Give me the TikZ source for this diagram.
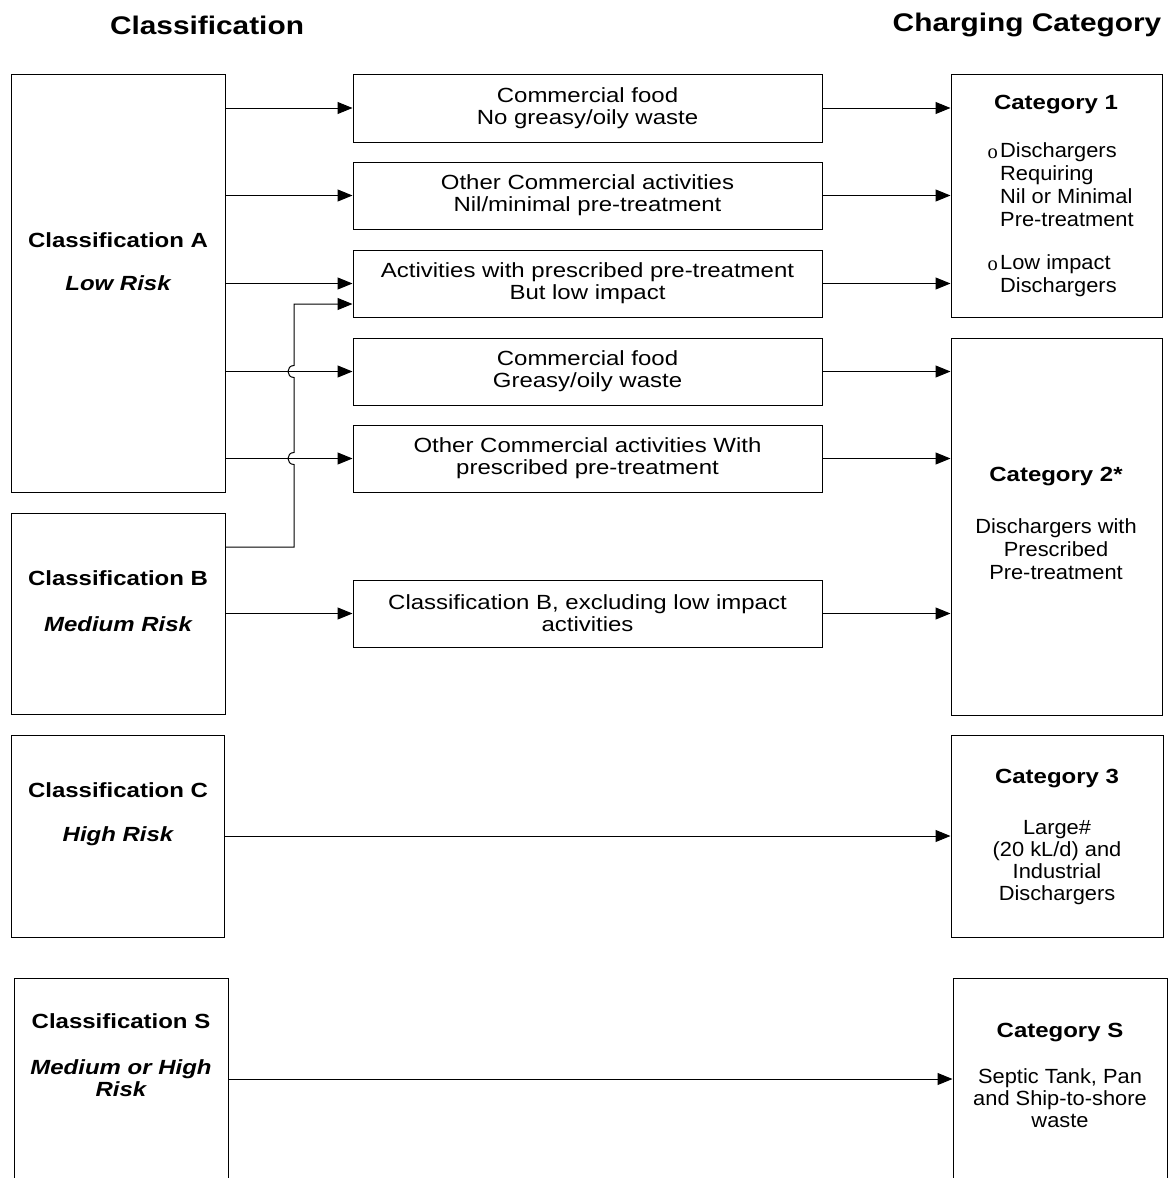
\documentclass[tikz,border=0pt]{standalone}
\usepackage{fontspec}
\setmainfont{Liberation Sans}[FakeStretch=1.17]
\newfontfamily\catfont{Liberation Sans}[FakeStretch=1.065]
\newfontfamily\bulfont{Liberation Serif}
\usetikzlibrary{arrows.meta,calc}
\begin{document}
\begin{tikzpicture}[x=1pt,y=-1pt,
  box/.style={draw, line width=1pt, inner sep=0pt, align=center},
  txt/.style={inner sep=0pt, align=center, font=\fontsize{20.5}{23}\selectfont},
  mtxt/.style={inner sep=0pt, align=center, font=\fontsize{20.5}{22}\selectfont},
  ctxt/.style={inner sep=0pt, align=center, font=\catfont\fontsize{20.5}{23}\selectfont},
  ltxt/.style={inner sep=0pt, align=left, anchor=west, font=\catfont\fontsize{20.5}{23}\selectfont},
  bul/.style={inner sep=0pt, anchor=base, font=\bulfont\fontsize{20.5}{23}\selectfont},
  head/.style={inner sep=0pt, font=\fontsize{25.5}{28}\selectfont\bfseries},
  arr/.style={line width=1pt, -{Triangle[length=15pt,width=12pt]}}]
\useasboundingbox (0,0) rectangle (1171,1178);
\clip (0,0) rectangle (1171,1178);

% headers
\node[head] (h1) at (207,25) {Classification};
\node[head] (h2) at (1027,25) {Charging Category};

% left boxes
\node[box, minimum width=214pt, minimum height=418pt] (clsA) at (118,283) {};
\node[box, minimum width=214pt, minimum height=201pt] (clsB) at (118,613.5) {};
\node[box, minimum width=213pt, minimum height=202pt] (clsC) at (117.5,836) {};
\node[box, minimum width=214pt, minimum height=222pt] (clsS) at (121,1089) {};
\node[txt] (tA1) at (118,240) {\bfseries Classification A};
\node[txt] (tA2) at (118,283) {\bfseries\itshape Low Risk};
\node[txt] (tB1) at (118,578) {\bfseries Classification B};
\node[txt] (tB2) at (118,624) {\bfseries\itshape Medium Risk};
\node[txt] (tC1) at (118,790) {\bfseries Classification C};
\node[txt] (tC2) at (118,836) {\bfseries\itshape High Risk};
\node[txt] (tS1) at (121,1021) {\bfseries Classification S};
\node[mtxt] (tS2) at (121,1078) {\bfseries\itshape Medium or High\\\bfseries\itshape Risk};

% middle boxes
\node[box, mtxt, minimum width=469pt, minimum height=68pt] (m1) at (587.5,108) {Commercial food\\No greasy/oily waste};
\node[box, mtxt, minimum width=469pt, minimum height=67pt] (m2) at (587.5,195.5) {Other Commercial activities\\Nil/minimal pre-treatment};
\node[box, mtxt, minimum width=469pt, minimum height=67pt] (m3) at (587.5,283.5) {Activities with prescribed pre-treatment\\But low impact};
\node[box, mtxt, minimum width=469pt, minimum height=67pt] (m4) at (587.5,371.5) {Commercial food\\Greasy/oily waste};
\node[box, mtxt, minimum width=469pt, minimum height=67pt] (m5) at (587.5,458.5) {Other Commercial activities With\\prescribed pre-treatment};
\node[box, mtxt, minimum width=469pt, minimum height=67pt] (m6) at (587.5,613.5) {Classification B, excluding low impact\\activities};

% right boxes
\node[box, minimum width=211pt, minimum height=243pt] (c1) at (1056.5,195.5) {};
\node[box, minimum width=211pt, minimum height=377pt] (c2) at (1056.5,526.5) {};
\node[box, minimum width=212pt, minimum height=202pt] (c3) at (1057,836) {};
\node[box, minimum width=214pt, minimum height=222pt] (cS) at (1060,1089) {};

\node[txt] (t11) at (1056,105) {\bfseries Category 1};
\node[bul] (b1) at (992.8,158) {o};
\node[ltxt] (t12) at (1000,185) {Dischargers\\Requiring\\Nil or Minimal\\Pre-treatment};
\node[bul] (b2) at (992.8,270.5) {o};
\node[ltxt] (t13) at (1000,275.3) {Low impact\\Dischargers};

\node[txt] (t21) at (1056,477) {\bfseries Category 2*};
\node[ctxt] (t22) at (1056,549) {Dischargers with\\Prescribed\\Pre-treatment};

\node[txt] (t31) at (1057,779) {\bfseries Category 3};
\node[ctxt, font=\catfont\fontsize{20.5}{22}\selectfont] (t32) at (1057,863) {Large\#\\(20 kL/d) and\\Industrial\\Dischargers};

\node[txt] (tS31) at (1060,1033) {\bfseries Category S};
\node[ctxt, font=\catfont\fontsize{20.5}{22}\selectfont] (tS32) at (1060,1098) {Septic Tank, Pan\\and Ship-to-shore\\waste};

% connectors from classification A
\draw[arr] (clsA.east |- m1.west) -- (m1.west);
\draw[arr] (clsA.east |- m2.west) -- (m2.west);
\draw[arr] (clsA.east |- m3.west) -- (m3.west);
\draw[arr] (clsA.east |- m4.west) -- (m4.west);
\draw[arr] (clsA.east |- m5.west) -- (m5.west);

% from classification B with line hops
\coordinate (m3b) at ([yshift=-20.5pt]m3.west);
\coordinate (bout) at ([yshift=66.5pt]clsB.east);
\coordinate (jx) at (294,547);
\draw[arr] (bout) -- (jx |- bout)
  -- ($(jx|-m5.west)+(0,6)$) .. controls ($(jx|-m5.west)+(-8,6)$) and ($(jx|-m5.west)+(-8,-6)$) .. ($(jx|-m5.west)+(0,-6)$)
  -- ($(jx|-m4.west)+(0,6)$) .. controls ($(jx|-m4.west)+(-8,6)$) and ($(jx|-m4.west)+(-8,-6)$) .. ($(jx|-m4.west)+(0,-6)$)
  -- (jx |- m3b) -- (m3b);
\draw[arr] (clsB.east |- m6.west) -- (m6.west);

% to categories
\draw[arr] (m1.east) -- (c1.west |- m1.east);
\draw[arr] (m2.east) -- (c1.west |- m2.east);
\draw[arr] (m3.east) -- (c1.west |- m3.east);
\draw[arr] (m4.east) -- (c2.west |- m4.east);
\draw[arr] (m5.east) -- (c2.west |- m5.east);
\draw[arr] (m6.east) -- (c2.west |- m6.east);
\draw[arr] (clsC.east) -- (c3.west);
\coordinate (sout) at ([yshift=10pt]clsS.east);
\draw[arr] (sout) -- (cS.west |- sout);
\end{tikzpicture}
\end{document}
